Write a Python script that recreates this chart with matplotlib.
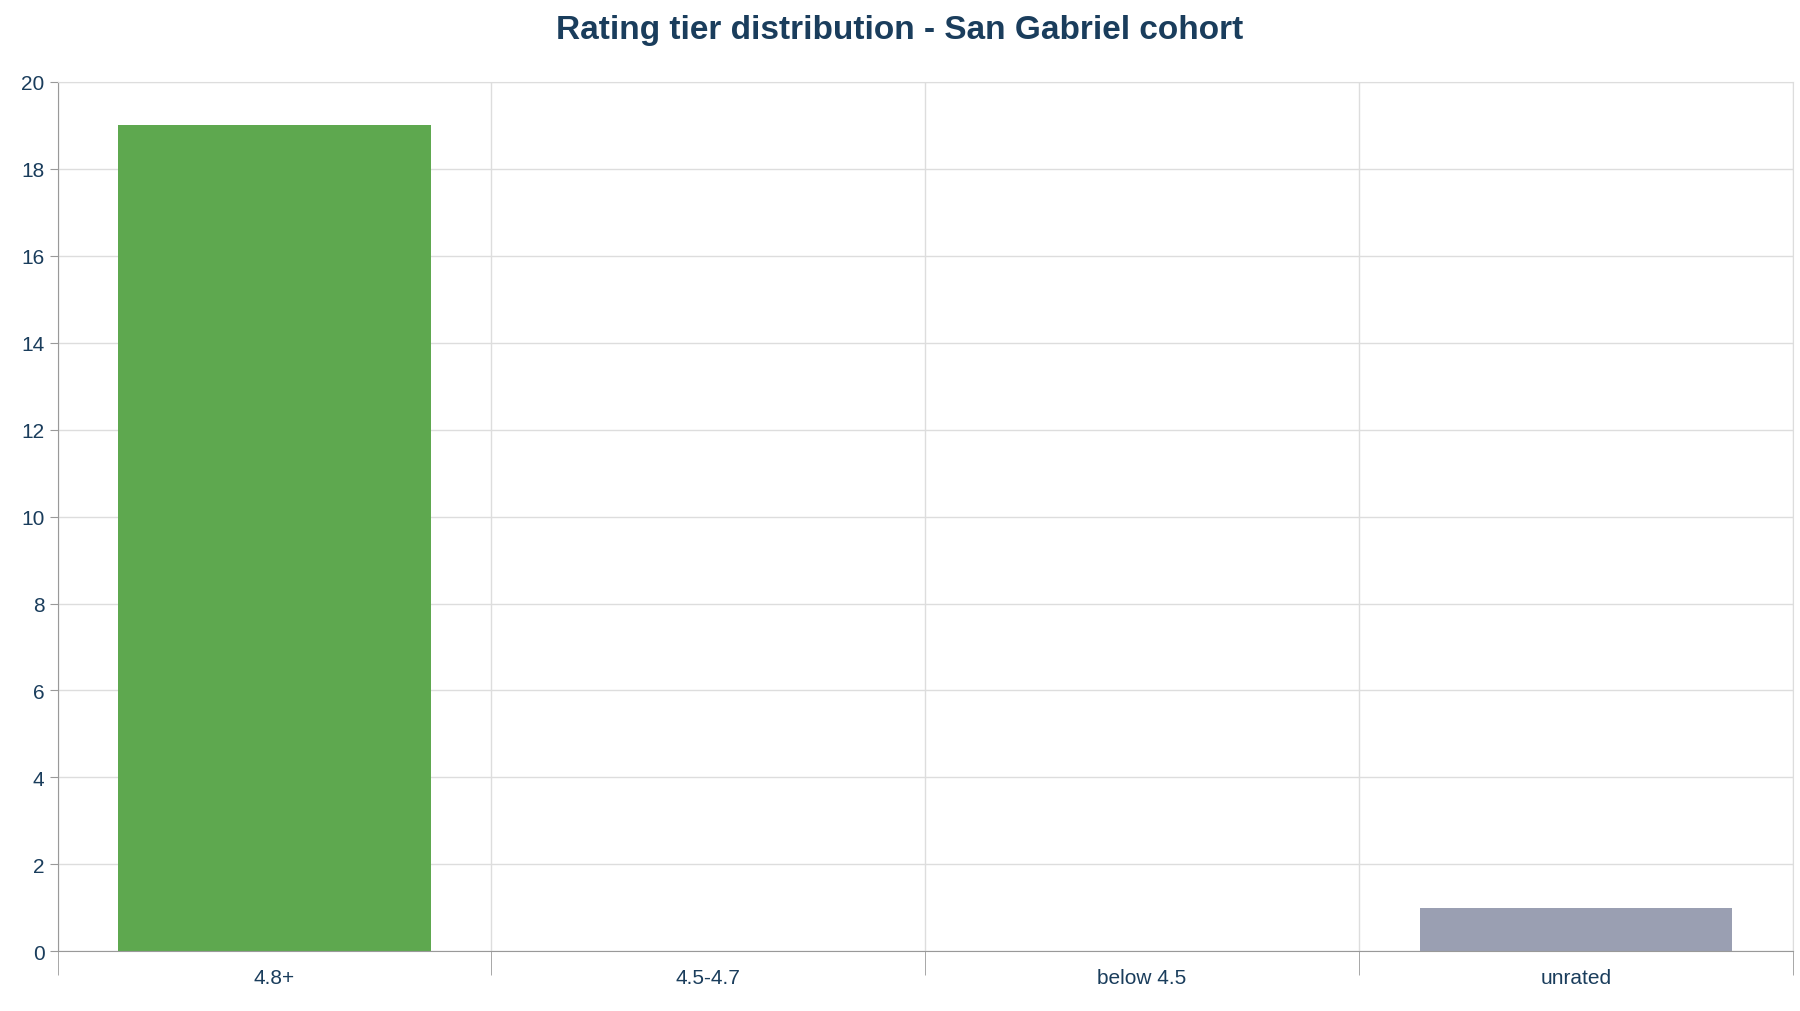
import matplotlib
matplotlib.use('Agg')
import matplotlib.pyplot as plt
import numpy as np

categories = ['4.8+', '4.5-4.7', 'below 4.5', 'unrated']
counts = [19, 0, 0, 1]
bar_colors = ['#5ea84f', '#5ea84f', '#5ea84f', '#9a9fb2']
text_color = '#1a3d5c'

plt.rcParams['font.family'] = ['Liberation Sans', 'DejaVu Sans']

fig = plt.figure(figsize=(18, 10.12), dpi=100)
ax = fig.add_axes([0.032, 0.059, 0.964, 0.859])

x = np.arange(len(categories))
ax.bar(x, counts, width=0.72, color=bar_colors, zorder=2)

ax.set_xlim(-0.5, len(categories) - 0.5)
ax.set_ylim(0, 20)
ax.set_yticks(range(0, 21, 2))
ax.set_xticks(x)
ax.set_xticklabels(categories)
ax.set_xticks(np.arange(-0.5, len(categories), 1.0), minor=True)

ax.grid(True, which='major', axis='y', color='#dddddd', lw=1, zorder=0)
ax.grid(True, which='minor', axis='x', color='#dddddd', lw=1, zorder=0)
ax.tick_params(axis='x', which='major', length=0, pad=12, labelsize=15, labelcolor=text_color)
ax.tick_params(axis='x', which='minor', length=17, color='#999999', direction='out')
ax.tick_params(axis='y', length=6, color='#999999', labelsize=15, labelcolor=text_color)

for side in ['top', 'right']:
    ax.spines[side].set_color('#dddddd')
for side in ['left', 'bottom']:
    ax.spines[side].set_color('#999999')

fig.suptitle('Rating tier distribution - San Gabriel cohort', x=0.5, y=0.985,
             fontsize=24, fontweight='bold', color=text_color)

fig.savefig('out.png', dpi=100)
